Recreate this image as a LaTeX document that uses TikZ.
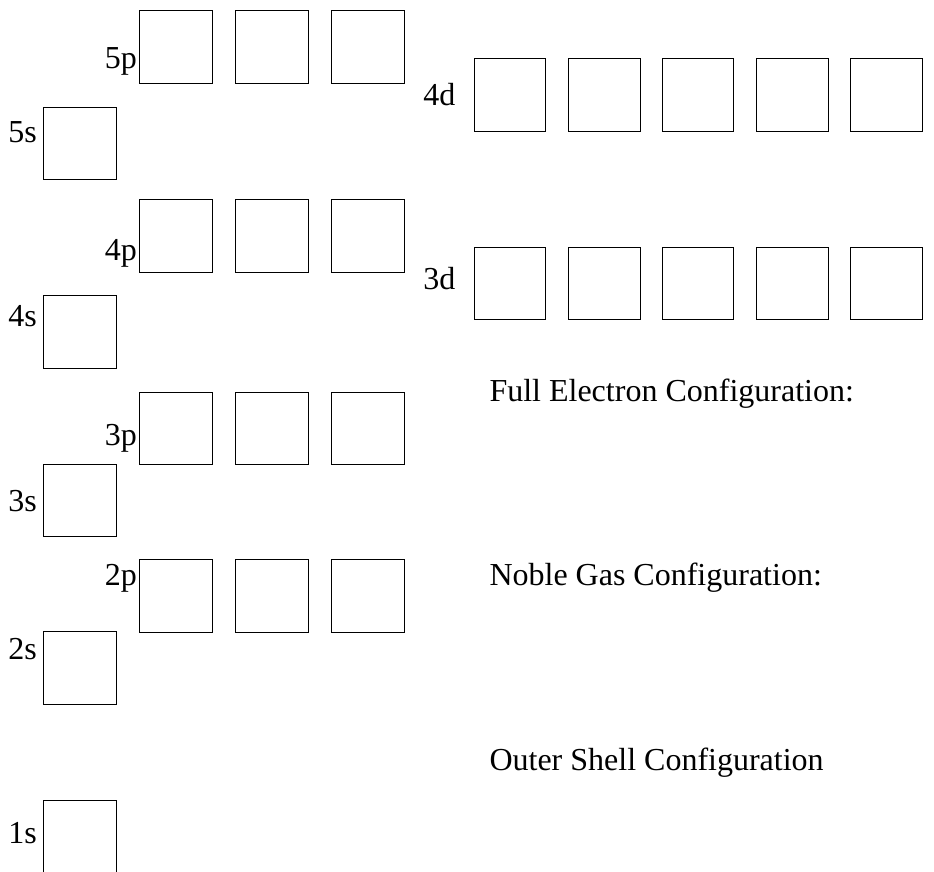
\documentclass[tikz,border=0pt]{standalone}
\usepackage{fontspec}
\setmainfont{Liberation Serif}
\tikzset{
  orb/.style={draw, line width=1.1pt, rectangle, inner sep=0pt, minimum width=73pt, minimum height=72.5pt, anchor=north west},
  dorb/.style={orb, minimum width=71.5pt},
  lab/.style={inner sep=0pt, anchor=base east, font=\fontsize{32}{38}\selectfont},
  txt/.style={inner sep=0pt, anchor=base west, font=\fontsize{32}{38}\selectfont}
}
\begin{document}
\begin{tikzpicture}[x=1pt, y=-1pt]
\useasboundingbox (0,0) rectangle (934,871);
% s orbitals
\node[orb] (s5) at (43.3,106.7) {};
\node[orb] (s4) at (43.3,295.3) {};
\node[orb] (s3) at (43.3,463.7) {};
\node[orb] (s2) at (43.3,631) {};
\node[orb] (s1) at (43.3,799.7) {};
\node[lab] (l5s) at (37,142.3) {5s};
\node[lab] (l4s) at (37,326.7) {4s};
\node[lab] (l3s) at (37,511.7) {3s};
\node[lab] (l2s) at (37,659) {2s};
\node[lab] (l1s) at (37,843) {1s};
% p orbitals
\foreach \n/\y/\b in {5/10.3/68.3, 4/199/260.7, 3/391.7/445, 2/559.3/585} {
  \node[orb] (p\n a) at (139.3,\y) {};
  \node[orb] (p\n b) at (235.3,\y) {};
  \node[orb] (p\n c) at (331.3,\y) {};
  \node[lab] (l\n p) at (137,\b) {\n p};
}
% d orbitals
\foreach \n/\y/\b in {4/58.3/105, 3/246.7/289.3} {
  \node[dorb] (d\n a) at (473.7,\y) {};
  \node[dorb] (d\n b) at (568,\y) {};
  \node[dorb] (d\n c) at (661.7,\y) {};
  \node[dorb] (d\n d) at (756,\y) {};
  \node[dorb] (d\n e) at (850,\y) {};
  \node[lab] (l\n d) at (455.5,\b) {\n d};
}
% texts
\node[txt] (full) at (489.3,401) {Full Electron Configuration:};
\node[txt] (noble) at (489.3,585) {Noble Gas Configuration:};
\node[txt] (outer) at (489.3,770) {Outer Shell Configuration};
\end{tikzpicture}
\end{document}
